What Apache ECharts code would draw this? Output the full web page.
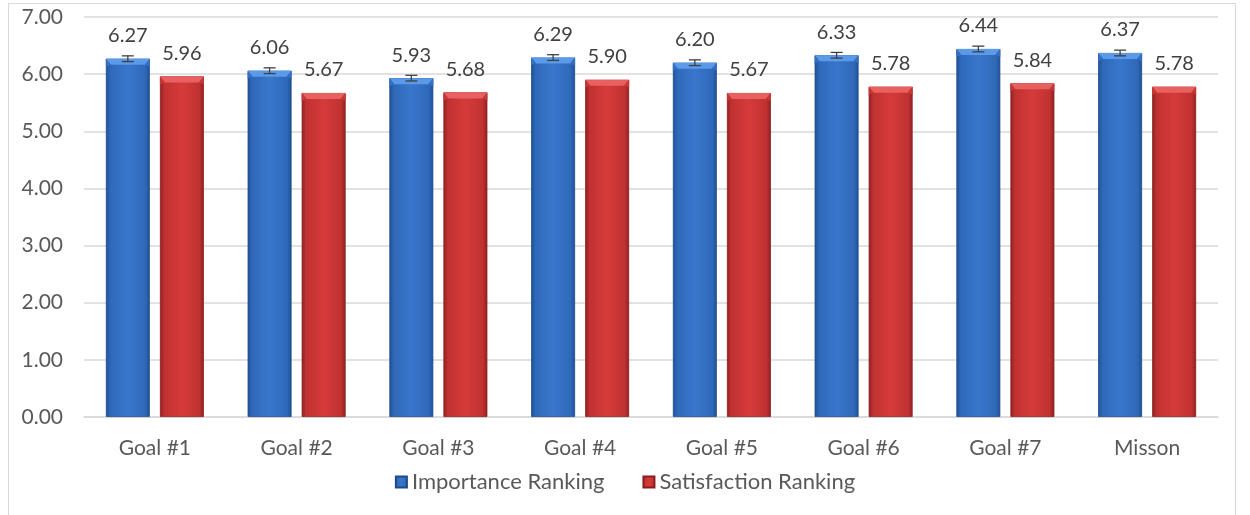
<!DOCTYPE html>
<html>
<head>
<meta charset="utf-8">
<script src="https://cdn.jsdelivr.net/npm/echarts@6/dist/echarts.min.js"></script>
<style>
html,body{margin:0;padding:0;background:#fff;}
#frame{position:absolute;left:8px;top:3px;width:1228px;height:520px;border:1px solid #d9d9d9;box-sizing:border-box;}
#chart{position:absolute;left:0;top:0;width:1250px;height:515px;}
</style>
</head>
<body>
<div id="frame"></div>
<div id="chart"></div>
<script>
const categories = ['Goal #1','Goal #2','Goal #3','Goal #4','Goal #5','Goal #6','Goal #7','Misson'];
const importance = [6.27, 6.06, 5.93, 6.29, 6.20, 6.33, 6.44, 6.37];
const satisfaction = [5.96, 5.67, 5.68, 5.90, 5.67, 5.78, 5.84, 5.78];
const importanceErr = [0.05, 0.05, 0.05, 0.05, 0.05, 0.05, 0.05, 0.05];
const yTicks = {min: 0, max: 7, interval: 1};

const FONT = 'Lato';
const BW = 0.31, GAP = 0.23;
function grad(dark, mid, light){
  return {type:'linear', x:0, y:0, x2:1, y2:0, colorStops:[
    {offset:0, color:dark},{offset:0.1, color:mid},{offset:0.5, color:light},{offset:0.9, color:mid},{offset:1, color:dark}]};
}
const blueFill = grad('#1f4f94', '#2f68b8', '#3977cc');
const redFill = grad('#8e2020', '#c03131', '#d63b3b');

function bevel(seriesOffset, light, side){
  return function(params, api){
    const i = api.value(0);
    const top = api.coord([i, api.value(1)]);
    const sz = api.size([1,0]);
    const bw = sz[0]*BW, gap = bw*GAP;
    const cx = top[0] + seriesOffset*(gap/2 + bw/2);
    const x0 = cx - bw/2, x1 = cx + bw/2, y = top[1], d = 5;
    return {type:'group', children:[
      {type:'polygon', shape:{points:[[x0,y],[x1,y],[x1-d,y+d+1],[x0+d,y+d+1]]}, style:{fill:light}},
      {type:'polygon', shape:{points:[[x0,y],[x0+d,y+d+1],[x0,y+d+3]]}, style:{fill:side}},
      {type:'polygon', shape:{points:[[x1,y],[x1-d,y+d+1],[x1,y+d+3]]}, style:{fill:side}}
    ]};
  };
}

const chart = echarts.init(document.getElementById('chart'), null, {renderer:'canvas'});
const errData = importance.map((v,i)=>[i, v - importanceErr[i], v + importanceErr[i]]);
chart.setOption({
  animation:false,
  textStyle:{fontFamily:FONT},
  grid:{left:84, right:32, top:17, bottom:98},
  legend:{
    bottom:17, left:'center', itemWidth:11, itemHeight:11, itemGap:38,
    textStyle:{fontSize:22, color:'#595959', fontFamily:FONT},
    data:[{name:'Importance Ranking', icon:'rect'},{name:'Satisfaction Ranking', icon:'rect'}]
  },
  xAxis:{type:'category', data:categories,
    axisLine:{lineStyle:{color:'#d9d9d9', width:1.5}}, axisTick:{show:false},
    axisLabel:{fontSize:21, color:'#595959', margin:21, fontFamily:FONT}},
  yAxis:{type:'value', min:yTicks.min, max:yTicks.max, interval:yTicks.interval,
    axisLine:{show:false}, axisTick:{show:false},
    splitLine:{lineStyle:{color:'#d9d9d9', width:1.5}},
    axisLabel:{fontSize:21, color:'#595959', margin:21, fontFamily:FONT, formatter:v=>v.toFixed(2)}},
  series:[
    {name:'Importance Ranking', type:'bar', data:importance, barWidth:'31%', barGap:'23%',
      itemStyle:{color:blueFill, borderColor:'#1d4a8a', borderWidth:0.8},
      label:{show:true, position:'top', distance:13, fontSize:20, color:'#404040', fontFamily:FONT, formatter:p=>p.value.toFixed(2)}},
    {name:'Satisfaction Ranking', type:'bar', data:satisfaction, barWidth:'31%', barGap:'23%',
      itemStyle:{color:redFill, borderColor:'#8a1d1d', borderWidth:0.8},
      label:{show:true, position:'top', distance:13, fontSize:20, color:'#404040', fontFamily:FONT, formatter:p=>p.value.toFixed(2)}},
    {name:'bevelA', type:'custom', data:importance.map((v,i)=>[i,v]), z:5, silent:true,
      renderItem:bevel(-1, '#5a9ae8', '#3570c0')},
    {name:'bevelB', type:'custom', data:satisfaction.map((v,i)=>[i,v]), z:5, silent:true,
      renderItem:bevel(1, '#e86060', '#c83636')},
    {name:'err', type:'custom', data:errData, z:10, silent:true,
      renderItem:function(params, api){
        const i = api.value(0);
        const lo = api.coord([i, api.value(1)]);
        const hi = api.coord([i, api.value(2)]);
        const sz = api.size([1,0]);
        const bw = sz[0]*BW, gap = bw*GAP;
        const x = lo[0] - gap/2 - bw/2;
        const hw = 6;
        const st = {stroke:'#404040', lineWidth:1.3};
        return {type:'group', children:[
          {type:'line', shape:{x1:x, y1:lo[1], x2:x, y2:hi[1]}, style:st},
          {type:'line', shape:{x1:x-hw, y1:lo[1], x2:x+hw, y2:lo[1]}, style:st},
          {type:'line', shape:{x1:x-hw, y1:hi[1], x2:x+hw, y2:hi[1]}, style:st}
        ]};
      }}
  ]
});
</script>
</body>
</html>
